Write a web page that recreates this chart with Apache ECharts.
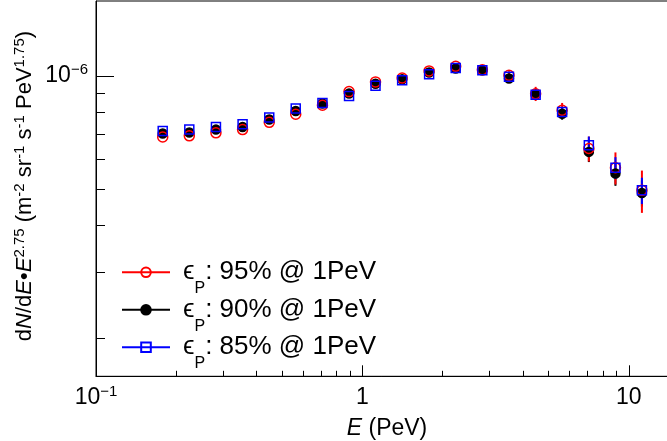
<!DOCTYPE html>
<html>
<head>
<meta charset="utf-8">
<script src="https://cdn.jsdelivr.net/npm/echarts@6/dist/echarts.min.js"></script>
<style>
  html, body { margin: 0; padding: 0; background: #fff; }
  #chart { width: 667px; height: 441px; }
</style>
</head>
<body>
<div id="chart"></div>
<script>
// bin centres (PeV)
const energy = [0.178, 0.224, 0.282, 0.355, 0.447, 0.562, 0.708, 0.891, 1.12, 1.41,
  1.78, 2.24, 2.82, 3.55, 4.47, 5.62, 7.08, 8.91, 11.2];

// eps_P 95% @ 1PeV
const flux95 = [6.88e-7, 6.93e-7, 7.06e-7, 7.20e-7, 7.53e-7, 7.91e-7, 8.36e-7, 9.09e-7, 9.65e-7, 9.88e-7,
  1.032e-6, 1.062e-6, 1.039e-6, 1.005e-6, 8.97e-7, 8.11e-7, 6.41e-7, 5.70e-7, 4.96e-7];
const err95 = [0.04e-7, 0.04e-7, 0.04e-7, 0.04e-7, 0.05e-7, 0.05e-7, 0.05e-7, 0.06e-7, 0.07e-7, 0.08e-7,
  0.10e-7, 0.12e-7, 0.15e-7, 0.25e-7, 0.39e-7, 0.37e-7, 0.49e-7, 0.56e-7, 0.64e-7];

// eps_P 90% @ 1PeV
const flux90 = [7.03e-7, 7.07e-7, 7.20e-7, 7.32e-7, 7.66e-7, 8.07e-7, 8.45e-7, 8.98e-7, 9.54e-7, 9.81e-7,
  1.022e-6, 1.047e-6, 1.036e-6, 9.85e-7, 8.93e-7, 7.94e-7, 6.28e-7, 5.50e-7, 4.88e-7];
const err90 = [0.03e-7, 0.03e-7, 0.03e-7, 0.03e-7, 0.04e-7, 0.04e-7, 0.04e-7, 0.05e-7, 0.06e-7, 0.07e-7,
  0.08e-7, 0.10e-7, 0.12e-7, 0.18e-7, 0.27e-7, 0.29e-7, 0.38e-7, 0.40e-7, 0.39e-7];

// eps_P 85% @ 1PeV
const flux85 = [7.14e-7, 7.20e-7, 7.32e-7, 7.44e-7, 7.75e-7, 8.19e-7, 8.48e-7, 8.85e-7, 9.42e-7, 9.74e-7,
  1.011e-6, 1.051e-6, 1.036e-6, 9.96e-7, 8.92e-7, 8.02e-7, 6.54e-7, 5.70e-7, 4.96e-7];
const err85 = [0.03e-7, 0.03e-7, 0.03e-7, 0.03e-7, 0.04e-7, 0.04e-7, 0.04e-7, 0.05e-7, 0.06e-7, 0.07e-7,
  0.08e-7, 0.10e-7, 0.12e-7, 0.18e-7, 0.22e-7, 0.25e-7, 0.36e-7, 0.38e-7, 0.40e-7];

const legendNames = ['95%', '90%', '85%'];
const xMinorTicks = [0.2, 0.3, 0.4, 0.5, 0.6, 0.7, 0.8, 0.9, 2, 3, 4, 5, 6, 7, 8, 9];
const yMinorTicks = [2e-7, 3e-7, 4e-7, 5e-7, 6e-7, 7e-7, 8e-7, 9e-7];

const FONT = "'Liberation Sans', 'DejaVu Sans', sans-serif";

const chart = echarts.init(document.getElementById('chart'), null, { renderer: 'canvas' });

const powLabel = (v) => {
  const p = Math.log10(v);
  const r = Math.round(p);
  if (Math.abs(p - r) > 1e-6) return '';
  if (r === 0) return '{b|1}';
  if (r === 1) return '{b|10}';
  return '{b|10}{s|\u2212' + (-r) + '}';
};

const labelRich = {
  b: { fontSize: 23, lineHeight: 27, fontFamily: FONT, color: '#000', verticalAlign: 'middle' },
  s: { fontSize: 15, lineHeight: 15, fontFamily: FONT, color: '#000', verticalAlign: 'top' },
};

const errSeries = (name, ys, errs, color) => ({
  type: 'custom',
  name,
  silent: true,
  data: energy.map((e, i) => [e, ys[i], errs[i]]),
  encode: { x: 0, y: 1 },
  renderItem: (params, api) => {
    const x = api.value(0), y = api.value(1), d = api.value(2);
    const lo = api.coord([x, y - d]);
    const hi = api.coord([x, y + d]);
    return {
      type: 'line',
      shape: { x1: lo[0], y1: lo[1], x2: hi[0], y2: hi[1] },
      style: { stroke: color, lineWidth: 2 },
    };
  },
});

const markSeries = (name, ys, color, symbol, filled, size) => ({
  type: 'line',
  name,
  data: energy.map((e, i) => [e, ys[i]]),
  symbol,
  symbolSize: size,
  showAllSymbol: true,
  lineStyle: { color, width: 2, opacity: 0 },
  itemStyle: { color: filled ? color : 'rgba(0,0,0,0)', borderColor: color, borderWidth: 1.5 },
  emphasis: { disabled: true },
});

const option = {
  animation: false,
  backgroundColor: '#fff',
  grid: {
    left: 96, top: 1, width: 613, height: 375.3,
    outerBoundsMode: 'none',
    show: true, borderColor: '#000', borderWidth: 1,
  },
  xAxis: [
    {
      type: 'log', logBase: 10, min: 0.1, max: 20,
      axisLine: { lineStyle: { color: '#000', width: 1 } },
      axisTick: { inside: true, length: 11, lineStyle: { color: '#000' } },
      axisLabel: { margin: 8, formatter: powLabel, rich: labelRich, showMinLabel: true, showMaxLabel: false },
      splitLine: { show: false },
    },
    {
      type: 'log', logBase: 10, min: 0.1, max: 20, position: 'bottom',
      axisLine: { show: false },
      axisTick: { inside: true, length: 5.5, customValues: xMinorTicks, lineStyle: { color: '#000' } },
      axisLabel: { show: false },
      splitLine: { show: false },
    },
  ],
  yAxis: [
    {
      type: 'log', logBase: 10, min: 1.585e-7, max: 1.585e-6, position: 'left',
      axisLine: { lineStyle: { color: '#000', width: 1 } },
      axisTick: { inside: true, length: 18, lineStyle: { color: '#000' } },
      axisLabel: { margin: 8, formatter: powLabel, rich: labelRich, showMinLabel: false, showMaxLabel: false },
      splitLine: { show: false },
    },
    {
      type: 'log', logBase: 10, min: 1.585e-7, max: 1.585e-6, position: 'left',
      axisLine: { show: false },
      axisTick: { inside: true, length: 9, customValues: yMinorTicks, lineStyle: { color: '#000' } },
      axisLabel: { show: false },
      splitLine: { show: false },
    },
  ],
  legend: {
    orient: 'vertical',
    left: 121, top: 247.8,
    padding: 0,
    itemWidth: 48, itemHeight: 12, itemGap: -11.5,
    data: legendNames,
    lineStyle: { opacity: 1, width: 2 },
    formatter: (n) => '{e|\u03f5}{sub|P}{t|: ' + n + ' @ 1PeV}',
    textStyle: {
      fontSize: 26, fontFamily: FONT, color: '#000', lineHeight: 49,
      rich: {
        e: { fontSize: 26, lineHeight: 49, fontFamily: FONT, color: '#000', verticalAlign: 'middle', padding: [0, 0, 0, 8] },
        sub: { fontSize: 16, lineHeight: 16, fontFamily: FONT, color: '#000', verticalAlign: 'bottom' },
        t: { fontSize: 26, lineHeight: 49, fontFamily: FONT, color: '#000', verticalAlign: 'middle' },
      },
    },
  },
  graphic: [
    {
      type: 'text', x: 25, y: 186, rotation: Math.PI / 2, silent: true,
      style: {
        text: '{t|d}{i|N}{t|/d}{i|E}{t|\u2022}{i|E}{s|2.75}{t| (m}{s|-2}{t| sr}{s|-1}{t| s}{s|-1}{t| PeV}{s|1.75}{t|)}',
        align: 'center', verticalAlign: 'middle',
        rich: {
          t: { fontSize: 22, lineHeight: 26, fontFamily: FONT, fill: '#000', verticalAlign: 'middle' },
          i: { fontSize: 22, lineHeight: 26, fontFamily: FONT, fontStyle: 'italic', fill: '#000', verticalAlign: 'middle' },
          s: { fontSize: 15, lineHeight: 15, fontFamily: FONT, fill: '#000', verticalAlign: 'top' },
        },
      },
    },
    {
      type: 'text', x: 387, y: 429, silent: true,
      style: {
        text: '{i|E}{t| (PeV)}',
        align: 'center', verticalAlign: 'middle',
        rich: {
          t: { fontSize: 23, fontFamily: FONT, fill: '#000' },
          i: { fontSize: 23, fontFamily: FONT, fontStyle: 'italic', fill: '#000' },
        },
      },
    },
  ],
  series: [
    errSeries('e90', flux90, err90, '#000'),
    markSeries(legendNames[1], flux90, '#000', 'circle', true, 9),
    errSeries('e95', flux95, err95, '#ff0000'),
    markSeries(legendNames[0], flux95, '#ff0000', 'circle', false, 10),
    errSeries('e85', flux85, err85, '#0000ff'),
    markSeries(legendNames[2], flux85, '#0000ff', 'rect', false, 9),
  ],
};

chart.setOption(option);
</script>
</body>
</html>
